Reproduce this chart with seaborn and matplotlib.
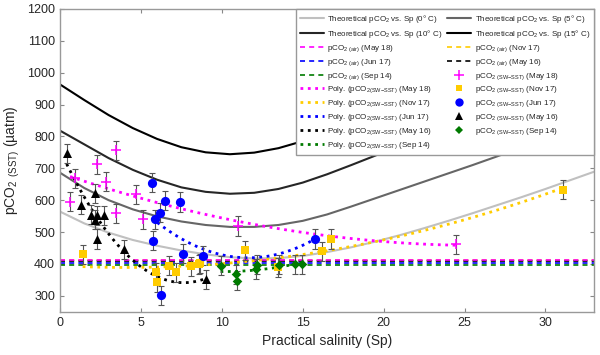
import numpy as np
import matplotlib
matplotlib.use('Agg')
import matplotlib.pyplot as plt
import seaborn as sns
from matplotlib.lines import Line2D

# theoretical pCO2 vs salinity curves
sal_grid = [0, 1.5, 3, 4.5, 6, 7.5, 9, 10.5, 12, 13.5, 15, 16.5, 18, 19.5, 21,
            22.5, 24, 25.5, 27, 28.5, 30, 31.5, 33]
theo_0 = [564, 527, 498, 475, 457, 442, 430, 421, 417, 418, 425, 437, 452, 470, 490,
          512, 535, 559, 584, 609, 635, 662, 689]
theo_5 = [686, 638, 600, 571, 549, 533, 522, 516, 516, 522, 535, 555, 580, 606, 632,
          658, 684, 710, 737, 765, 795, 826, 858]
theo_10 = [818, 775, 732, 695, 664, 640, 626, 620, 623, 635, 655, 681, 710, 740, 772,
           806, 842, 880, 920, 962, 1006, 1052, 1100]
theo_15 = [963, 914, 867, 826, 792, 766, 750, 744, 749, 763, 785, 812, 843, 877, 914,
           953, 995, 1040, 1087, 1136, 1187, 1240, 1295]

# atmospheric pCO2 levels
air_may18 = 411
air_nov17 = 411
air_jun17 = 404
air_may16 = 410
air_sep14 = 397

# seawater pCO2 at SST
may18_x = [0.62, 0.93, 2.30, 2.84, 3.46, 3.46, 4.69, 5.14, 11.0, 24.5]
may18_y = [595, 669, 713, 658, 757, 559, 619, 540, 519, 462]
nov17_x = [1.40, 5.93, 6.00, 6.73, 7.14, 8.07, 8.58, 8.68, 11.42, 13.5, 16.2, 16.77, 31.1]
nov17_y = [430, 373, 342, 394, 374, 392, 399, 402, 442, 390, 439, 478, 632]
jun17_x = [5.66, 5.76, 5.86, 6.21, 6.27, 6.48, 7.41, 7.60, 8.85, 15.74]
jun17_y = [655, 472, 540, 561, 301, 598, 594, 432, 425, 478]
may16_x = [0.41, 1.30, 1.89, 2.16, 2.16, 2.26, 2.30, 2.74, 3.95, 9.01]
may16_y = [747, 585, 554, 622, 538, 478, 552, 552, 446, 352]
sep14_x = [9.92, 10.86, 10.95, 12.10, 12.18, 13.54, 14.50, 14.98]
sep14_y = [394, 368, 347, 384, 397, 397, 399, 399]
ERR = 30

C_MAG, C_YEL, C_BLU, C_BLK, C_GRN = '#FF00FF', '#FFCC00', '#0000FF', '#000000', '#007A00'

sns.set_style('ticks')
plt.rcParams['font.family'] = ['Liberation Sans', 'DejaVu Sans']
plt.rcParams['mathtext.default'] = 'regular'

fig = plt.figure(figsize=(6, 3.55), dpi=100)
ax = fig.add_axes([0.1, 0.122, 0.89, 0.853])

# theoretical curves
theo = [(theo_0, '#C0C0C0'), (theo_5, '#666666'), (theo_10, '#262626'), (theo_15, '#000000')]
for vals, col in theo:
    sns.lineplot(x=sal_grid, y=vals, color=col, lw=1.5, estimator=None, ax=ax)

# air lines
dash = (0, (3, 2.5))
for lvl, col in [(air_sep14, C_GRN), (air_jun17, C_BLU), (air_nov17, C_YEL),
                 (air_may16, C_BLK), (air_may18, C_MAG)]:
    ax.axhline(lvl, color=col, ls=dash, lw=1.2)

# polynomial trendlines
series = [(may18_x, may18_y, C_MAG), (nov17_x, nov17_y, C_YEL), (jun17_x, jun17_y, C_BLU),
          (may16_x, may16_y, C_BLK), (sep14_x, sep14_y, C_GRN)]
for sx, sy, col in series:
    sns.regplot(x=np.array(sx), y=np.array(sy), order=2, ci=None, scatter=False, ax=ax,
                line_kws=dict(color=col, ls=':', lw=2))

# points with error bars
marks = [(may18_x, may18_y, C_MAG, '+', 55), (nov17_x, nov17_y, C_YEL, 's', 32),
         (jun17_x, jun17_y, C_BLU, 'o', 44), (may16_x, may16_y, C_BLK, '^', 42),
         (sep14_x, sep14_y, C_GRN, 'D', 24)]
for sx, sy, col, m, s in marks:
    ax.errorbar(sx, sy, yerr=ERR, fmt='none', ecolor='#555555', elinewidth=0.8,
                capsize=2.5, capthick=0.8, zorder=3)
for sx, sy, col, m, s in marks:
    if m == '+':
        sns.scatterplot(x=sx, y=sy, marker='+', color=col, s=s, linewidth=1.1, ax=ax, zorder=4)
    else:
        sns.scatterplot(x=sx, y=sy, marker=m, color=col, s=s, linewidth=0, ax=ax, zorder=4)

ax.set_xlim(0, 33)
ax.set_ylim(250, 1200)
ax.set_xticks(range(0, 35, 5))
ax.set_yticks(range(300, 1201, 100))
ax.tick_params(direction='in', top=True, right=True, length=3, color='#888888',
               labelsize=9)
for sp in ax.spines.values():
    sp.set_color('#999999')
    sp.set_linewidth(1.0)
ax.set_xlabel('Practical salinity (Sp)', fontsize=10)
ax.set_ylabel(r'pCO$_2$ $_{(SST)}$ (µatm)', fontsize=10)

# legend
def ln(col, ls, lw=1.5):
    return Line2D([], [], color=col, ls=ls, lw=lw)

def mk(col, m, ms, mew=0):
    return Line2D([], [], color=col, ls='none', marker=m, markersize=ms, markeredgewidth=mew)

air = r'pCO$_{2\ (air)}$'
sst = r'pCO$_{2\ (SW{-}SST)}$'
poly = r'Poly. (pCO$_{2(SW{-}SST)}$'
handles = [
    ln('#C0C0C0', '-'), ln('#262626', '-'),
    ln(C_MAG, dash, 1.2), ln(C_BLU, dash, 1.2), ln(C_GRN, dash, 1.2),
    ln(C_MAG, ':', 2), ln(C_YEL, ':', 2), ln(C_BLU, ':', 2), ln(C_BLK, ':', 2), ln(C_GRN, ':', 2),
    ln('#666666', '-'), ln('#000000', '-'),
    ln(C_YEL, dash, 1.2), ln(C_BLK, dash, 1.2),
    mk(C_MAG, '+', 7, 1.1), mk(C_YEL, 's', 5), mk(C_BLU, 'o', 6), mk(C_BLK, '^', 6), mk(C_GRN, 'D', 4.5),
]
labels = [
    r'Theoretical pCO$_2$ vs. Sp (0° C)', r'Theoretical pCO$_2$ vs. Sp (10° C)',
    air + ' (May 18)', air + ' (Jun 17)', air + ' (Sep 14)',
    poly + ' (May 18)', poly + ' (Nov 17)', poly + ' (Jun 17)', poly + ' (May 16)', poly + ' (Sep 14)',
    r'Theoretical pCO$_2$ vs. Sp (5° C)', r'Theoretical pCO$_2$ vs. Sp (15° C)',
    air + ' (Nov 17)', air + ' (May 16)',
    sst + ' (May 18)', sst + ' (Nov 17)', sst + ' (Jun 17)', sst + ' (May 16)', sst + ' (Sep 14)',
]
leg = ax.legend(handles, labels, ncol=2, loc='upper right', bbox_to_anchor=(1, 1),
                borderaxespad=0, fontsize=5.8, frameon=True, fancybox=False,
                handlelength=3.0, handletextpad=0.4, columnspacing=0.6,
                labelspacing=0.38, borderpad=0.5)
leg.get_frame().set_edgecolor('#999999')
leg.get_frame().set_linewidth(1.0)
leg.get_frame().set_alpha(1)
leg.set_zorder(10)

plt.savefig('out.png', dpi=100)
plt.close()
